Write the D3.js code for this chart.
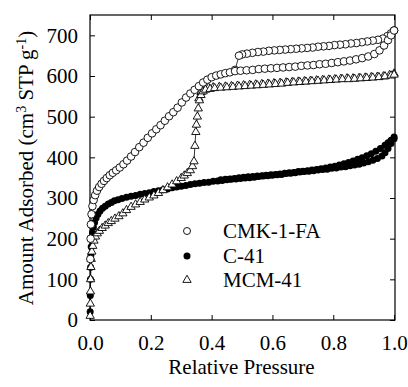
<!DOCTYPE html>
<html><head><meta charset="utf-8">
<script src="https://cdn.jsdelivr.net/npm/d3@7"></script>
<style>
body{margin:0;background:#fff;}
svg text{font-family:"Liberation Serif","DejaVu Serif","Noto Serif",Times,serif !important;fill:#000;}
</style></head>
<body><svg id="c" width="408" height="387"></svg>
<script>
// ---- data ----
const xTicks = [0.0, 0.2, 0.4, 0.6, 0.8, 1.0];
const yTicks = [0, 100, 200, 300, 400, 500, 600, 700];
const seriesNames = ["CMK-1-FA", "C-41", "MCM-41"];

const cmkAds = [[0.001,150],[0.002,200],[0.003,235],[0.005,260],[0.008,280],[0.012,295],[0.017,307],[0.023,318],[0.03,327],[0.038,335],[0.046,342],[0.055,349],[0.065,356],[0.075,362],[0.086,368],[0.098,375],[0.11,383],[0.122,392],[0.135,402],[0.148,413],[0.162,425],[0.176,436],[0.19,448],[0.204,459],[0.218,469],[0.232,479],[0.246,490],[0.26,501],[0.274,511],[0.288,522],[0.302,535],[0.316,547],[0.33,557],[0.344,566],[0.358,575],[0.372,584],[0.386,591],[0.40,597],[0.415,601],[0.43,604],[0.445,607],[0.46,609],[0.477,612],[0.495,613],[0.515,614],[0.535,615],[0.555,617],[0.575,618],[0.595,619],[0.615,620],[0.635,621],[0.655,622],[0.675,623],[0.695,625],[0.715,626],[0.735,627],[0.755,629],[0.775,630],[0.795,632],[0.815,634],[0.835,636],[0.855,638],[0.875,641],[0.895,644],[0.915,648],[0.935,654],[0.952,663],[0.967,675],[0.98,688],[0.99,700],[1.0,712]];
const cmkDes = [[1.0,712],[0.99,705],[0.978,698],[0.963,692],[0.947,689],[0.93,687],[0.912,685],[0.894,683],[0.876,681],[0.858,680],[0.84,678],[0.822,677],[0.804,676],[0.786,674],[0.768,673],[0.75,672],[0.732,670],[0.714,669],[0.696,668],[0.678,667],[0.66,666],[0.642,665],[0.624,664],[0.606,663],[0.588,662],[0.57,660],[0.552,659],[0.534,657],[0.516,655],[0.50,653],[0.49,650],[0.477,615]];
const c41Ads = [[0.0005,20],[0.001,60],[0.0015,100],[0.002,130],[0.003,160],[0.004,180],[0.006,200],[0.008,214],[0.011,228],[0.015,240],[0.02,251],[0.026,260],[0.033,268],[0.041,275],[0.05,280],[0.06,285],[0.07,289],[0.08,293],[0.092,296],[0.105,299],[0.12,302],[0.135,304],[0.15,306],[0.165,309],[0.18,311],[0.195,313],[0.21,316],[0.225,318],[0.24,320],[0.255,322],[0.27,325],[0.285,327],[0.30,329],[0.315,331],[0.33,333],[0.345,335],[0.36,336],[0.375,338],[0.39,339],[0.405,341],[0.42,342],[0.435,343],[0.45,345],[0.465,346],[0.48,347],[0.495,348],[0.51,349],[0.525,350],[0.54,351],[0.555,353],[0.57,354],[0.585,355],[0.60,356],[0.615,357],[0.63,358],[0.645,360],[0.66,361],[0.675,362],[0.69,364],[0.705,365],[0.72,366],[0.735,367],[0.75,369],[0.765,370],[0.78,371],[0.795,373],[0.81,374],[0.825,376],[0.84,377],[0.855,379],[0.87,381],[0.885,383],[0.90,386],[0.915,389],[0.93,393],[0.945,397],[0.96,403],[0.97,411],[0.98,422],[0.99,434],[1.0,446]];
const c41Des = [[1.0,450],[0.99,442],[0.98,436],[0.97,430],[0.955,422],[0.94,415],[0.925,409],[0.91,404],[0.895,399],[0.88,395],[0.865,391],[0.85,387],[0.835,384],[0.82,381],[0.805,378],[0.79,376],[0.775,374],[0.76,372],[0.745,370],[0.73,369],[0.715,367],[0.70,366],[0.685,365],[0.67,363],[0.655,362],[0.64,361],[0.625,359],[0.61,358],[0.595,357],[0.58,356],[0.565,355],[0.55,354],[0.535,353],[0.52,352],[0.505,351],[0.49,350],[0.475,348],[0.46,347],[0.445,346],[0.43,345]];
const mcmAds = [[0.0005,10],[0.001,40],[0.0015,70],[0.002,100],[0.003,130],[0.004,150],[0.006,168],[0.009,182],[0.013,195],[0.018,205],[0.024,213],[0.031,219],[0.04,226],[0.05,232],[0.06,238],[0.07,243],[0.082,249],[0.095,255],[0.108,262],[0.12,270],[0.135,278],[0.15,284],[0.165,290],[0.18,296],[0.195,301],[0.21,306],[0.225,312],[0.24,319],[0.255,326],[0.27,333],[0.285,341],[0.30,349],[0.31,355],[0.32,361],[0.33,368],[0.337,378],[0.342,390],[0.345,428],[0.348,462],[0.35,480],[0.353,500],[0.356,520],[0.36,540],[0.365,553],[0.372,562],[0.38,566],[0.395,568],[0.41,570],[0.43,571],[0.45,572],[0.47,573],[0.49,574],[0.51,575],[0.53,576],[0.55,577],[0.57,578],[0.59,579],[0.61,580],[0.63,581],[0.65,583],[0.67,584],[0.69,585],[0.71,586],[0.73,587],[0.75,588],[0.77,589],[0.79,590],[0.81,591],[0.83,592],[0.85,592],[0.87,593],[0.89,594],[0.91,595],[0.93,596],[0.95,597],[0.97,599],[0.99,601],[1.0,603]];
const mcmDes = [[1.0,606],[0.985,602],[0.965,599],[0.945,598],[0.925,597],[0.905,596],[0.885,595],[0.865,594],[0.845,594],[0.825,593],[0.805,592],[0.785,591],[0.765,590],[0.745,589],[0.725,588],[0.705,587],[0.685,586],[0.665,585],[0.645,584],[0.625,583],[0.605,582],[0.585,581],[0.565,580],[0.545,579],[0.525,578],[0.505,577],[0.485,576],[0.465,575],[0.445,574],[0.425,573],[0.405,572],[0.39,571],[0.375,568],[0.365,560],[0.358,545]];

// ---- chart ----
const svg = d3.select("#c");
const L = 90, R = 395, T = 15, B = 320;
const x = d3.scaleLinear().domain([0, 1.003]).range([L, R]);
const y = d3.scaleLinear().domain([0, 750]).range([B, T]);
const FS = 21;
const SERIF = '"Liberation Serif","DejaVu Serif","Noto Serif",Times,serif';

// frame
svg.append("rect").attr("x", L).attr("y", T).attr("width", R - L).attr("height", B - T)
  .attr("fill", "none").attr("stroke", "#000").attr("stroke-width", 1.2);

// axes (inward ticks)
const gB = svg.append("g").attr("transform", `translate(0,${B})`)
  .call(d3.axisBottom(x).tickValues(xTicks).tickSize(-5).tickFormat(d3.format(".1f")).tickPadding(15));
const gT = svg.append("g").attr("transform", `translate(0,${T})`)
  .call(d3.axisTop(x).tickValues(xTicks).tickSize(-5).tickFormat(""));
const gL = svg.append("g").attr("transform", `translate(${L},0)`)
  .call(d3.axisLeft(y).tickValues(yTicks).tickSize(-5).tickFormat(d3.format("d")).tickPadding(12));
const gR = svg.append("g").attr("transform", `translate(${R},0)`)
  .call(d3.axisRight(y).tickValues(yTicks).tickSize(-5).tickFormat(""));
[gB, gT, gL, gR].forEach(g => {
  g.attr("font-family", SERIF).attr("font-size", FS);
  g.select(".domain").remove();
  g.selectAll("line").attr("stroke", "#000").attr("stroke-width", 1);
  g.selectAll("text").attr("fill", "#000");
});

// lines
const line = d3.line().x(d => x(d[0])).y(d => y(d[1]));
[cmkAds, cmkDes, c41Ads, c41Des, mcmAds, mcmDes].forEach(s => {
  svg.append("path").datum(s).attr("d", line).attr("fill", "none")
    .attr("stroke", "#000").attr("stroke-width", 0.8);
});

// markers
const tri = d3.symbol().type(d3.symbolTriangle).size(30);
function circlesOpen(data) {
  svg.append("g").selectAll("circle").data(data).join("circle")
    .attr("cx", d => x(d[0])).attr("cy", d => y(d[1])).attr("r", 3.8)
    .attr("fill", "#fff").attr("stroke", "#000").attr("stroke-width", 0.9);
}
function circlesFilled(data) {
  svg.append("g").selectAll("circle").data(data).join("circle")
    .attr("cx", d => x(d[0])).attr("cy", d => y(d[1])).attr("r", 3.5)
    .attr("fill", "#000");
}
function triangles(data) {
  svg.append("g").selectAll("path").data(data).join("path")
    .attr("d", tri).attr("transform", d => `translate(${x(d[0])},${y(d[1])})`)
    .attr("fill", "#fff").attr("stroke", "#000").attr("stroke-width", 0.9);
}
circlesFilled(c41Ads); circlesFilled(c41Des);
triangles(mcmDes); triangles(mcmAds);
circlesOpen(cmkDes); circlesOpen(cmkAds);

// legend
const lg = svg.append("g").attr("font-family", SERIF);
const legY = [231, 256, 280];
lg.append("circle").attr("cx", 187).attr("cy", legY[0]).attr("r", 3.5).attr("fill", "#fff").attr("stroke", "#000").attr("stroke-width", 0.9);
lg.append("circle").attr("cx", 187).attr("cy", legY[1]).attr("r", 3.5).attr("fill", "#000");
lg.append("path").attr("d", tri).attr("transform", `translate(187,${legY[2]})`).attr("fill", "#fff").attr("stroke", "#000").attr("stroke-width", 0.9);
seriesNames.forEach((n, i) => {
  lg.append("text").attr("x", 223).attr("y", legY[i]).attr("dy", "0.35em")
    .attr("font-size", FS).text(n);
});

// axis titles
svg.append("text").attr("x", (L + R) / 2 - 1).attr("y", 374).attr("text-anchor", "middle")
  .attr("font-family", SERIF).attr("font-size", FS).text("Relative Pressure");
const yt = svg.append("text").attr("transform", "translate(33,168) rotate(-90)")
  .attr("text-anchor", "middle").attr("font-family", SERIF).attr("font-size", FS);
yt.append("tspan").text("Amount Adsorbed (cm");
yt.append("tspan").attr("baseline-shift", "super").attr("font-size", 14).text("3");
yt.append("tspan").text(" STP g");
yt.append("tspan").attr("baseline-shift", "super").attr("font-size", 14).text("-1");
yt.append("tspan").text(")");
</script></body></html>
